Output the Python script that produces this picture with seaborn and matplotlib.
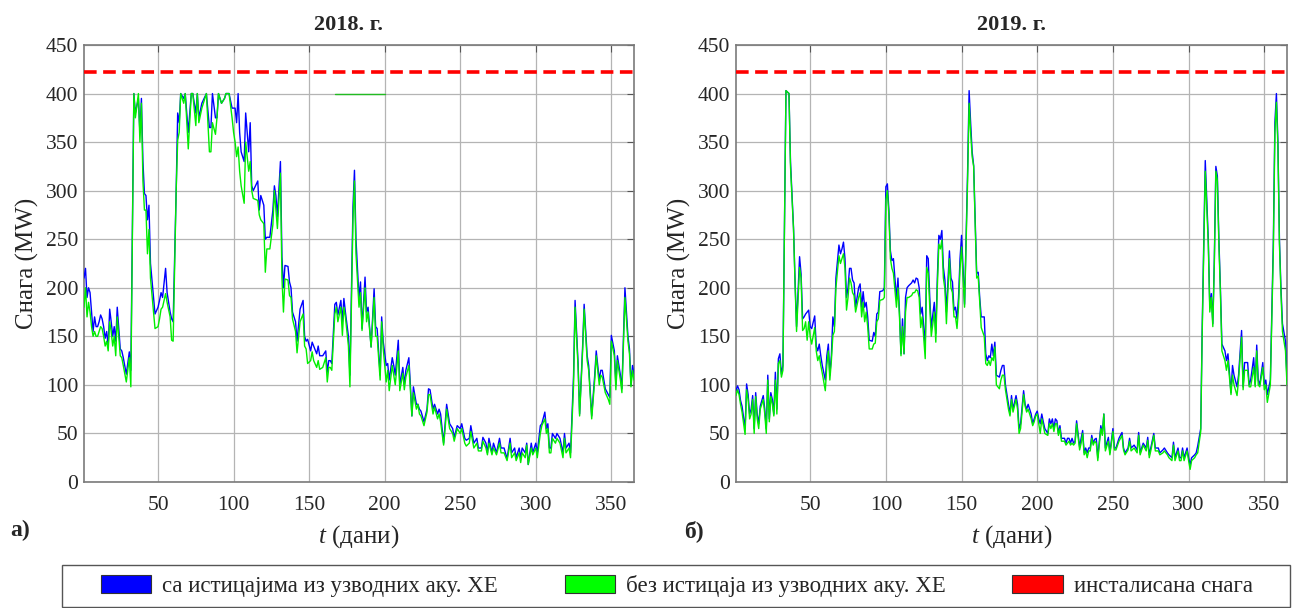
import numpy as np
import pandas as pd
import matplotlib
matplotlib.use("Agg")
import matplotlib.pyplot as plt
from matplotlib.patches import Patch, Rectangle
import seaborn as sns

# ---------------- data ----------------
days_2018 = [1,2,3,4,5,6,7,8,9,10,
11,12,13,14,15,16,17,18,19,20,
21,22,23,25,26,27,29,31,32,34,
35,37,38,39,40,41,42,43,44,45,
47,48,50,51,52,53,55,56,58,59,
60,62,63,64,65,67,68,70,72,73,
75,76,77,79,82,84,85,86,88,89,
90,92,94,95,97,99,100,101,102,103,
104,105,107,108,110,111,112,113,116,117,
118,120,121,122,124,126,127,128,129,131,
132,133,134,136,137,138,139,141,142,144,
146,147,148,149,151,152,153,155,156,157,
159,161,162,163,164,165,167,168,169,171,
172,173,174,176,177,179,180,181,183,184,
185,187,188,189,191,193,194,195,197,198,
199,201,202,203,205,206,207,209,210,212,
213,214,216,217,218,219,221,222,223,224,
226,228,229,230,232,233,235,236,237,239,
240,241,243,245,246,248,250,251,253,254,
256,257,259,261,262,264,265,267,268,269,
271,272,274,276,277,279,281,283,284,286,
287,289,290,291,293,294,295,297,298,300,
301,303,304,306,307,308,309,310,311,313,
314,316,318,319,320,322,323,325,326,328,
329,331,332,334,335,337,339,340,342,343,
344,346,348,349,350,352,353,354,356,357,
359,361,362,363,364,365]

blue_2018 = [210,220,190,200,195,175,155,170,160,160,
165,172,168,160,148,155,140,178,165,150,
160,145,180,137,135,128,111,134,115,400,
380,395,360,395,330,297,295,270,285,225,
190,173,180,187,195,190,220,195,175,168,
165,300,380,370,400,395,400,360,400,400,
380,400,375,390,400,365,365,400,375,375,
400,390,395,400,400,385,385,385,370,400,
360,340,330,380,340,370,305,300,310,280,
295,285,250,252,252,280,305,295,273,330,
232,200,223,222,206,200,175,165,145,178,
187,150,145,147,135,144,140,132,140,130,
130,135,113,125,125,122,183,185,172,187,
165,189,175,150,110,283,321,250,189,206,
158,211,175,180,139,199,160,158,110,170,
145,120,122,105,128,120,110,146,100,118,
100,115,128,100,68,98,80,80,75,73,
62,75,96,95,75,80,70,75,70,40,
60,80,60,55,46,58,55,60,45,43,
45,58,40,45,35,35,46,40,30,45,
30,40,30,45,35,35,24,45,30,35,
25,35,25,35,30,40,18,40,30,40,
30,58,60,72,55,60,35,35,50,45,
50,45,30,50,35,40,30,110,187,122,
70,140,183,130,120,68,110,135,105,115,
115,96,90,87,151,135,100,130,110,96,
200,150,137,100,120,110]

green_2018 = [180,200,170,185,175,160,150,155,150,150,
155,160,158,150,140,145,135,165,155,140,
150,130,170,130,128,120,103,128,98,400,
375,400,350,390,310,280,280,235,260,210,
175,158,160,168,178,180,194,185,170,146,
145,300,352,360,400,390,400,343,400,400,
367,400,370,385,400,340,340,370,358,375,
400,390,395,400,400,375,360,350,335,345,
320,305,287,350,320,330,300,292,290,275,
270,266,216,240,240,265,300,280,261,318,
210,175,209,208,192,190,168,155,133,165,
173,140,137,122,125,134,125,118,125,116,
118,128,103,118,118,115,173,180,165,180,
151,180,170,140,98,270,310,235,180,195,
156,200,165,175,139,190,150,150,105,165,
138,103,115,94,120,110,100,135,94,112,
95,108,120,95,68,92,75,80,70,68,
58,72,90,90,70,77,65,70,62,38,
55,75,55,50,42,55,50,55,40,37,
40,52,35,40,32,32,42,35,28,40,
28,35,28,40,30,30,22,40,25,30,
22,30,20,30,25,38,18,35,28,35,
25,50,58,65,50,55,30,30,45,40,
45,40,25,45,30,35,25,100,180,118,
68,135,178,125,115,65,105,130,100,110,
108,92,85,80,145,130,95,125,105,92,
190,145,132,98,115,105]

# stray green segment at the 400 MW level in the 2018 panel
flat_days_2018 = [167, 200]
flat_vals_2018 = [400, 400]

days_2019 = [1,2,3,4,5,7,8,9,10,11,
12,13,14,15,16,17,19,20,21,22,
23,24,25,26,27,28,29,30,31,32,
34,36,37,39,40,41,43,44,45,46,
47,48,49,50,51,53,54,55,56,57,
58,60,61,62,63,64,65,66,67,69,
70,71,72,73,74,75,76,77,78,79,
80,82,83,84,85,86,87,88,89,91,
92,93,94,95,96,98,99,100,101,102,
103,104,105,107,108,109,110,111,112,113,
114,115,117,118,119,120,121,122,123,124,
126,127,128,129,130,132,133,134,135,136,
137,138,139,140,142,143,144,145,146,147,
148,149,150,151,152,154,155,156,157,158,
159,160,161,162,163,165,166,167,168,169,
170,171,172,173,175,176,177,178,179,180,
181,182,183,184,186,187,188,189,191,192,
193,194,196,197,198,199,200,201,202,203,
204,205,207,208,209,210,211,212,213,214,
215,216,218,219,220,221,222,223,224,225,
226,228,229,230,231,232,233,234,235,236,
237,238,239,240,242,243,244,245,247,248,
250,251,252,254,256,257,258,260,261,262,
264,266,267,268,270,272,273,274,275,277,
278,280,281,283,284,286,287,289,290,291,
293,294,295,296,297,299,300,301,302,304,
305,306,308,309,311,313,314,315,316,317,
318,319,320,321,322,324,325,326,328,329,
330,332,333,335,336,337,339,340,341,343,
344,345,346,347,349,350,351,352,354,356,
357,358,359,360,361,362,364,365]

blue_2019 = [94,99,95,84,78,55,101,90,70,75,
89,55,92,70,60,78,89,75,55,110,
65,92,85,70,113,75,127,132,111,120,
403,400,330,262,208,160,232,214,168,170,
173,175,177,160,158,171,140,135,142,130,
120,105,130,142,110,130,170,160,210,244,
235,240,247,230,190,200,220,220,208,205,
180,200,204,180,196,180,185,170,146,145,
154,150,173,175,196,197,200,304,307,280,
238,228,230,189,210,175,132,168,132,190,
200,202,205,208,205,210,209,200,173,180,
140,233,230,190,159,185,153,210,254,250,
259,221,208,175,238,210,206,177,180,168,
190,230,254,220,183,320,403,370,340,326,
270,215,216,190,170,170,132,125,130,128,
142,130,144,110,108,115,120,120,100,90,
80,70,89,75,89,80,55,60,94,80,
75,80,70,60,65,70,73,65,60,70,
62,55,50,65,60,65,55,65,63,50,
58,45,45,40,45,45,40,45,40,42,
63,36,45,53,30,35,30,35,35,48,
40,44,45,25,58,50,70,35,46,30,
55,35,35,45,51,35,30,35,45,35,
38,33,51,30,40,35,46,28,35,50,
35,35,30,33,35,30,28,25,41,25,
35,25,25,35,25,35,25,18,25,28,
30,37,55,161,331,250,180,194,163,230,
325,315,250,200,142,135,125,132,92,120,
110,98,110,156,98,123,123,100,105,128,
100,141,105,100,123,100,105,90,105,250,
370,400,350,250,200,163,145,105]

green_2019 = [89,95,90,80,72,49,95,85,65,70,
85,50,88,65,55,75,85,70,50,105,
62,88,80,68,105,70,122,125,108,115,
403,400,325,260,205,155,221,210,156,158,
165,146,165,150,142,159,135,125,130,120,
112,94,120,135,105,125,151,155,200,233,
225,230,235,220,177,190,210,205,195,192,
175,190,195,170,185,165,175,160,137,137,
142,143,165,168,187,188,190,290,300,275,
230,220,215,180,200,170,130,160,132,175,
190,190,192,195,195,198,197,190,159,170,
127,221,215,180,150,175,144,200,245,240,
249,210,199,163,230,200,195,170,170,158,
180,220,242,210,180,310,390,360,335,325,
265,210,212,185,159,150,122,120,125,120,
128,125,139,100,96,105,110,110,95,85,
75,68,85,72,85,75,50,55,90,78,
72,75,65,58,62,68,70,60,50,65,
58,50,48,60,55,60,52,60,60,48,
55,42,42,38,40,42,38,40,38,40,
60,33,40,50,28,32,25,32,32,45,
38,42,40,22,55,48,70,32,42,28,
52,33,33,42,48,33,28,33,42,32,
35,30,48,28,38,32,43,25,32,48,
32,32,28,30,32,28,25,22,38,22,
32,22,22,32,22,32,22,13,22,25,
28,30,52,155,320,245,175,190,160,225,
320,310,245,195,135,125,115,125,90,110,
100,89,105,149,95,115,115,98,98,118,
98,135,100,98,118,95,100,82,100,240,
360,391,345,245,195,155,135,100]

installed_power = 422
titles = ["2018. г.", "2019. г."]
panel_labels = ["а)", "б)"]
legend_labels = ["са истицајима из узводних аку. ХЕ",
                 "без истицаја из узводних аку. ХЕ",
                 "инсталисана снага"]
y_ticks = [0, 50, 100, 150, 200, 250, 300, 350, 400, 450]
x_ticks = [50, 100, 150, 200, 250, 300, 350]

assert len(days_2018) == len(blue_2018) == len(green_2018)
assert len(days_2019) == len(blue_2019) == len(green_2019)

# ---------------- style ----------------
sns.set_style("white")
plt.rcParams["font.family"] = ["Liberation Serif", "DejaVu Serif"]
plt.rcParams["mathtext.fontset"] = "custom"
plt.rcParams["mathtext.it"] = "Liberation Serif:italic"
plt.rcParams["mathtext.rm"] = "Liberation Serif"

BLUE = "#0000ff"
GREEN = "#00ee00"
RED = "#ff0000"

W, H = 1296, 608
fig = plt.figure(figsize=(12.96, 6.08), dpi=100)
ax1 = fig.add_axes([84 / W, 126 / H, 550 / W, 437 / H])
ax2 = fig.add_axes([736 / W, 126 / H, 551 / W, 437 / H])

datasets = [(days_2018, blue_2018, green_2018), (days_2019, blue_2019, green_2019)]
title_x = [0.48, 0.5]

for i, (ax, (d, b, g)) in enumerate(zip([ax1, ax2], datasets)):
    df = pd.DataFrame({"day": d, "blue": b, "green": g})
    sns.lineplot(data=df, x="day", y="blue", ax=ax, color=BLUE, lw=1.0, zorder=3)
    sns.lineplot(data=df, x="day", y="green", ax=ax, color=GREEN, lw=1.0, zorder=4)
    if i == 0:
        sns.lineplot(x=flat_days_2018, y=flat_vals_2018, ax=ax, color="#22bb22", lw=1.0, zorder=4)
    ax.axhline(installed_power, color=RED, lw=2.6, dashes=(3.5, 1.8), zorder=5)

    ax.set_xlim(1, 365)
    ax.set_ylim(0, 450)
    ax.set_yticks(y_ticks)
    ax.set_xticks(x_ticks)
    ax.grid(True, color="#b4b4b4", lw=0.9)
    ax.set_axisbelow(True)
    for s in ax.spines.values():
        s.set_color("#7a7a7a")
        s.set_linewidth(1.2)
    ax.tick_params(axis="both", direction="in", top=True, right=True, length=5,
                   color="#555555", labelsize=15.5)
    ax.tick_params(axis="y", pad=4)
    ax.tick_params(axis="x", pad=10)
    ax.set_title(titles[i], fontsize=16, fontweight="bold", pad=11, x=title_x[i])
    ax.set_ylabel("Снага (MW)", fontsize=18, labelpad=5)
    ax.set_xlabel(r"$\it{t}$ (дани)", fontsize=18, labelpad=6)

fig.text(0.008, 0.127, panel_labels[0], fontsize=17, fontweight="bold", ha="left", va="center")
fig.text(0.528, 0.127, panel_labels[1], fontsize=17, fontweight="bold", ha="left", va="center")

# legend frame
frame = Rectangle((62 / W, 1 / H), (1290 - 62) / W, (607 - 565) / H,
                  transform=fig.transFigure, facecolor="white",
                  edgecolor="#555555", lw=1.0)
fig.patches.append(frame)

handles = [Patch(facecolor=BLUE, edgecolor="#333333", lw=0.8),
           Patch(facecolor="#00ff00", edgecolor="#333333", lw=0.8),
           Patch(facecolor=RED, edgecolor="#333333", lw=0.8)]
leg = fig.legend(handles, legend_labels, loc="center left", ncol=3,
                 bbox_to_anchor=(101 / W, (608 - 586) / H),
                 fontsize=16.5, frameon=False,
                 handlelength=2.2, handleheight=0.8, borderaxespad=0.0,
                 borderpad=0.0, handletextpad=0.48, columnspacing=2.9)

fig.savefig("out.png", dpi=100)
